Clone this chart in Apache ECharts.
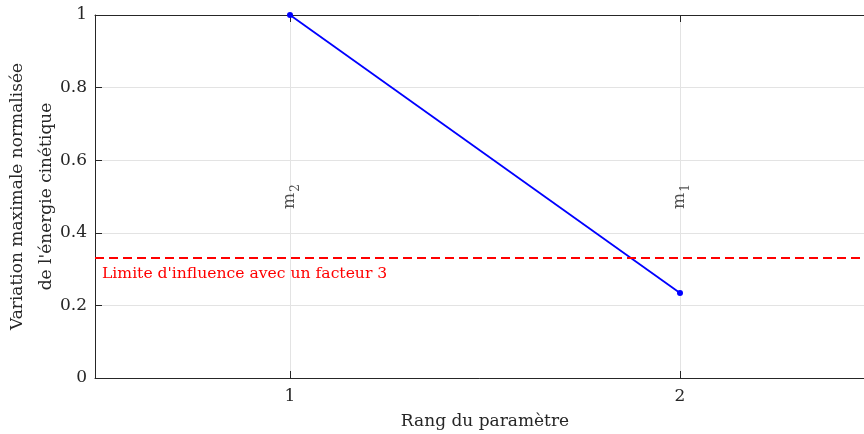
<!DOCTYPE html>
<html>
<head>
<meta charset="utf-8">
<script src="https://cdn.jsdelivr.net/npm/echarts@6/dist/echarts.min.js"></script>
<style>html,body{margin:0;padding:0;background:#fff}#c{width:864px;height:434px}</style>
</head>
<body>
<div id="c"></div>
<script>
const xTicks = [1, 2];
const rankX = [1, 2];
const variation = [1, 0.234];
const paramLabels = ['m', 'm'];
const paramSubs = ['2', '1'];
const labelY = 0.5;
const threshold = 1 / 3;
const thresholdLabel = "Limite d'influence avec un facteur 3";
const xTitle = 'Rang du paramètre';
const yTitle = 'Variation maximale normalisée\nde l\'énergie cinétique';

const FONT = 'DejaVu Serif';
const FS = 17;
const chart = echarts.init(document.getElementById('c'), null, {renderer: 'canvas'});
const axisCol = '#262626';
const gridCol = '#e3e3e3';

chart.setOption({
  animation: false,
  textStyle: {fontFamily: FONT},
  grid: {left: 95, right: -11, top: 15, bottom: 56, containLabel: false, outerBoundsMode: 'none'},
  xAxis: [{
    type: 'value', min: 0.5, max: 2.5, position: 'bottom',
    name: xTitle, nameLocation: 'middle', nameGap: 35, nameMoveOverlap: false,
    nameTextStyle: {fontFamily: FONT, fontSize: FS, color: axisCol},
    axisLine: {show: true, onZero: false, lineStyle: {color: axisCol, width: 1}},
    axisTick: {show: true, inside: true, length: 7, customValues: xTicks, lineStyle: {color: axisCol}},
    axisLabel: {customValues: xTicks, fontFamily: FONT, fontSize: FS, color: axisCol, margin: 10},
    splitLine: {show: true, lineStyle: {color: gridCol, width: 1}}
  }, {
    type: 'value', min: 0.5, max: 2.5, position: 'top',
    axisLine: {show: true, onZero: false, lineStyle: {color: axisCol, width: 1}},
    axisTick: {show: true, inside: true, length: 7, customValues: xTicks, lineStyle: {color: axisCol}},
    axisLabel: {show: false},
    splitLine: {show: false}
  }],
  yAxis: [{
    type: 'value', min: 0, max: 1, interval: 0.2,
    name: yTitle, nameLocation: 'middle', nameGap: 34, nameRotate: 90, nameMoveOverlap: false,
    nameTextStyle: {fontFamily: FONT, fontSize: FS, color: axisCol, lineHeight: 29, align: 'center'},
    axisLine: {show: true, onZero: false, lineStyle: {color: axisCol, width: 1}},
    axisTick: {show: true, inside: true, length: 7, lineStyle: {color: axisCol}},
    axisLabel: {fontFamily: FONT, fontSize: FS, color: axisCol, margin: 8,
      formatter: v => String(Math.round(v * 10) / 10)},
    splitLine: {show: true, lineStyle: {color: gridCol, width: 1}}
  }],
  series: [{
    type: 'line',
    data: rankX.map((x, i) => [x, variation[i]]),
    lineStyle: {color: '#0000ff', width: 1.8},
    itemStyle: {color: '#0000ff'},
    symbol: 'circle', symbolSize: 6,
    z: 3,
    markLine: {
      silent: true, symbol: 'none',
      lineStyle: {color: '#ff0000', type: [9, 5], width: 2},
      label: {show: true, position: 'insideStartBottom', formatter: thresholdLabel,
        color: '#ff0000', fontFamily: FONT, fontSize: 15.6, distance: [7, 8]},
      data: [{yAxis: threshold}]
    }
  }, {
    type: 'scatter',
    data: rankX.map((x, i) => [x, labelY]),
    symbolSize: 0,
    label: {
      show: true, position: 'inside', rotate: 90,
      formatter: p => '{m|' + paramLabels[p.dataIndex] + '}{s|' + paramSubs[p.dataIndex] + '}',
      rich: {
        m: {fontFamily: FONT, fontSize: FS, color: axisCol, lineHeight: 22, verticalAlign: 'middle'},
        s: {fontFamily: FONT, fontSize: 12, color: axisCol, lineHeight: 12, verticalAlign: 'top', padding: [11, 0, 0, 1]}
      }
    }
  }]
});
</script>
</body>
</html>
